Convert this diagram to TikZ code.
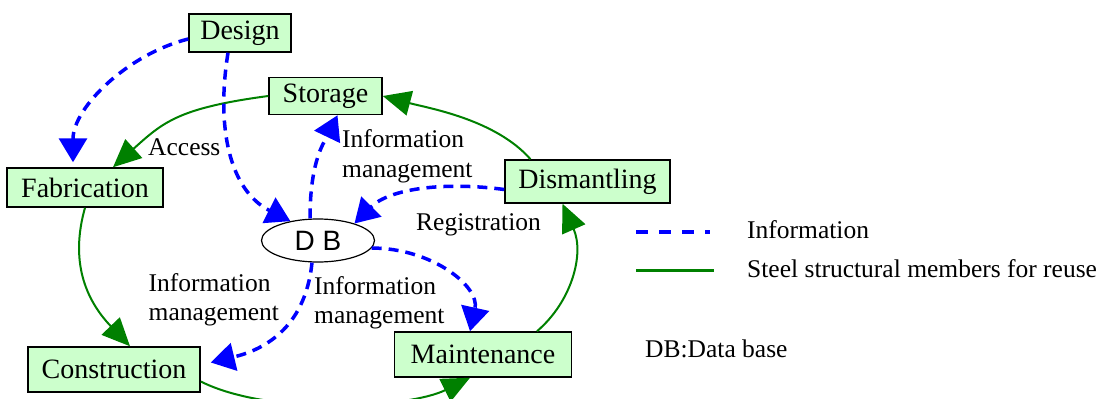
\documentclass[tikz,border=0pt]{standalone}
\usepackage{fontspec}
\setmainfont{Liberation Serif}
\newfontfamily\dbfont{Liberation Sans}
\usetikzlibrary{arrows.meta,shapes.geometric}
\definecolor{boxgreen}{RGB}{204,255,204}
\definecolor{steel}{RGB}{0,128,0}
\definecolor{info}{RGB}{0,0,255}
\tikzset{
  stage/.style={draw=black, line width=1.5pt, fill=boxgreen, inner sep=0pt,
    font=\fontsize{28}{30}\selectfont},
  lbl/.style={inner sep=0pt, font=\fontsize{25.5}{29.5}\selectfont, align=left},
  member/.style={draw=steel, line width=2pt, -{Triangle[length=28pt,width=25pt]}},
  infoflow/.style={draw=info, line width=3.5pt, dash pattern=on 10pt off 7pt,
    -{Triangle[length=24pt,width=28pt]}},
}
\begin{document}
\begin{tikzpicture}[x=1pt,y=-1pt]
\useasboundingbox (0,0) rectangle (1104,399);

% life-cycle stages
\node[stage, minimum width=102pt, minimum height=38pt] (design) at (240,33) {Design};
\node[stage, minimum width=113pt, minimum height=37pt] (storage) at (325.5,96) {Storage};
\node[stage, minimum width=156pt, minimum height=39pt] (fab) at (85,187.5) {Fabrication};
\node[stage, minimum width=165pt, minimum height=43pt] (dismantling) at (587.5,181.5) {Dismantling};
\node[stage, minimum width=172pt, minimum height=45pt] (construction) at (114,369.5) {Construction};
\node[stage, minimum width=177pt, minimum height=45pt] (maintenance) at (483,354.5) {Maintenance};
\node[ellipse, draw=black, line width=1.2pt, fill=white, inner sep=0pt,
      minimum width=113pt, minimum height=43pt, font=\dbfont\fontsize{28}{30}\selectfont]
      (db) at (318,240.5) {D B};

% flow of steel members
\draw[member] (storage.west) .. controls +(-90,12) and +(50,-45) .. ([xshift=28pt]fab.north);
\draw[member] (fab.south) .. controls +(-15,53) and +(-45,-47) .. ([xshift=16pt]construction.north);
\draw[member] ([yshift=-12pt]construction.east) .. controls +(70,35) and +(-60,30) .. ([xshift=-13pt]maintenance.south);
\draw[member] ([xshift=54pt]maintenance.north) .. controls +(35,-30) and +(22,50) .. ([xshift=-25pt]dismantling.south);
\draw[member] ([xshift=-57pt]dismantling.north) .. controls +(-35,-40) and +(45,12) .. (storage.east);

% flow of information
\draw[infoflow] ([yshift=-6pt]design.west) .. controls +(-60,15) and +(0,-55) .. ([xshift=-12pt,yshift=5pt]fab.north);
\draw[infoflow] ([xshift=-12pt]design.south) .. controls +(-12,75) and +(-61,-31) .. (db.145);
\draw[infoflow] ([xshift=-8pt]db.north) .. controls +(0,-60) and +(-12,25) .. ([xshift=12pt]storage.south);
\draw[infoflow] ([yshift=-8pt]dismantling.west) .. controls +(-60,-8) and +(35,-35) .. (db.25);
\draw[infoflow] (db.352) .. controls +(60,0) and +(10,-45) .. ([xshift=-13pt]maintenance.north);
\draw[infoflow] ([xshift=-6pt]db.south) .. controls +(-7,68) and +(50,-12) .. ([xshift=10pt,yshift=7pt]construction.east);

% connector labels
\node[lbl, anchor=base west] (access) at (148,155) {Access};
\node[lbl, anchor=west] (mgmtA) at (342,156.2) {Information\\management};
\node[lbl, anchor=base west] (registration) at (416,230) {Registration};
\node[lbl, anchor=west] (mgmtB) at (148.5,299.6) {Information\\management};
\node[lbl, anchor=west] (mgmtC) at (314,303) {Information\\management};

% legend
\coordinate (infoL) at (636,232);
\coordinate (infoR) at (710,232);
\draw[info, line width=3.5pt, dash pattern=on 12pt off 11pt] (infoL) -- (infoR);
\node[lbl, anchor=base west] (keyinfo) at (747,238) {Information};
\coordinate (steelL) at (636,270);
\coordinate (steelR) at (714,270);
\draw[steel, line width=3pt] (steelL) -- (steelR);
\node[lbl, anchor=base west] (keysteel) at (747,277) {Steel structural members for reuse};
\node[lbl, anchor=base west] (keydb) at (645,357) {DB:Data base};
\end{tikzpicture}
\end{document}
